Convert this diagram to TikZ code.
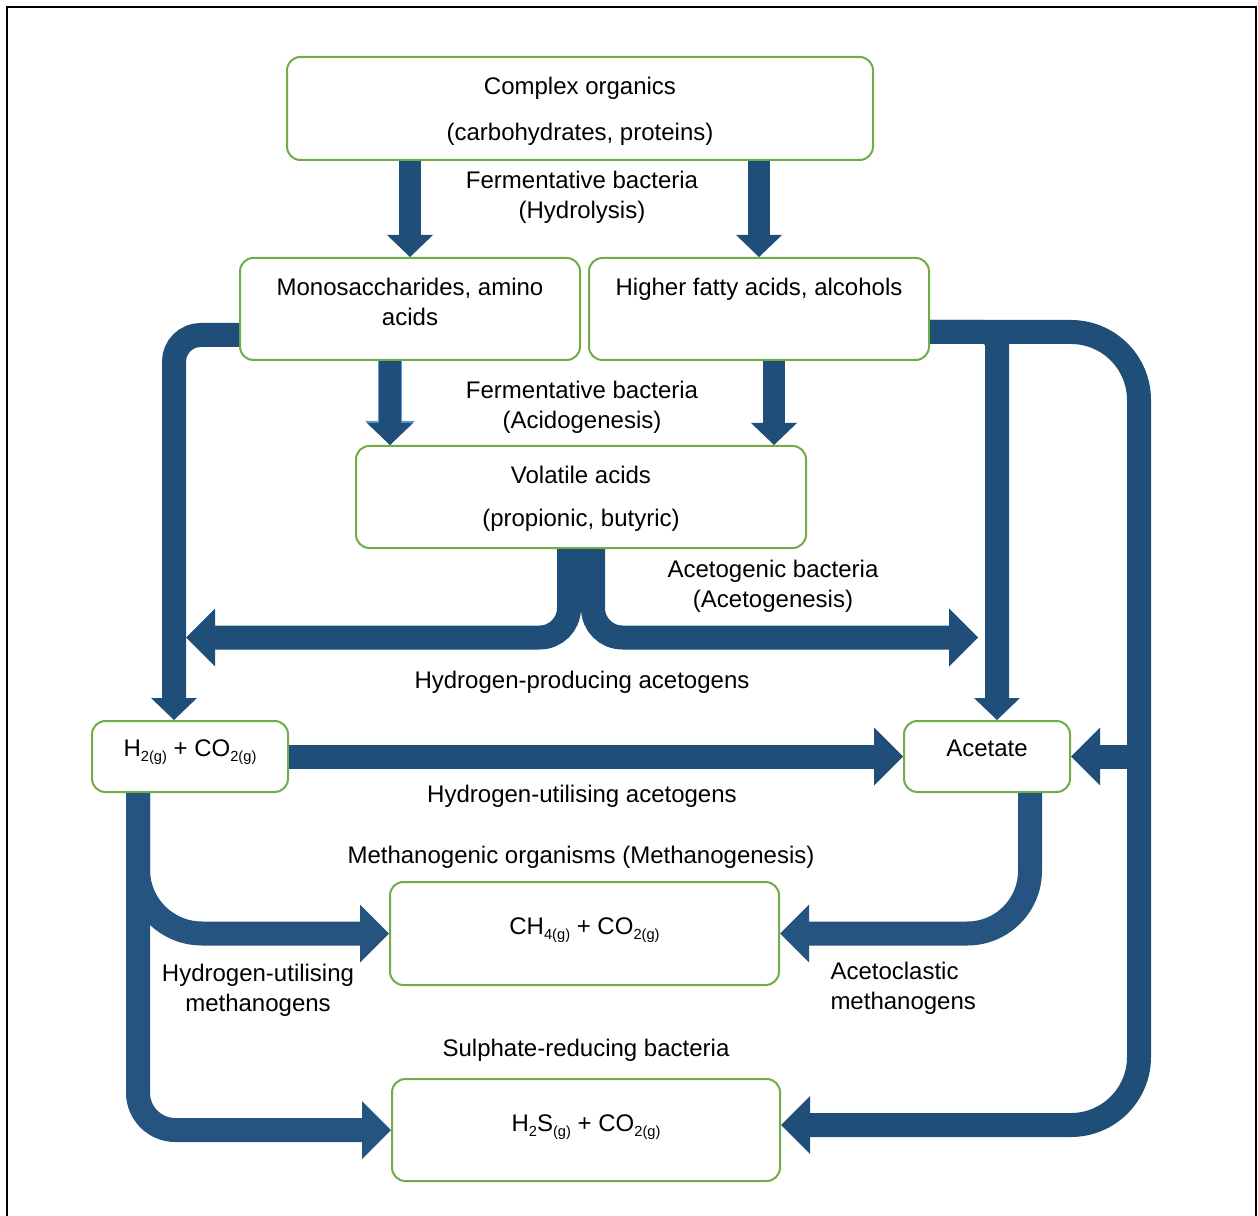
\documentclass[tikz,border=0pt]{standalone}
\usepackage{fontspec}
\setmainfont{Liberation Sans}
\usetikzlibrary{arrows.meta,calc}

\definecolor{arrowblue}{RGB}{31,78,121}
\definecolor{arrowblueB}{RGB}{37,84,128}
\definecolor{edgeblue}{RGB}{91,155,213}
\definecolor{boxgreen}{RGB}{112,173,71}

% text inside a box: [space above first line]{width}{height}{text}
\newcommand{\boxtext}[4][12.5pt]{\begin{minipage}[c][#3][t]{#2}\centering\vspace*{#1}\strut #4\end{minipage}}
% small lowered index, e.g. 2(g)
\newcommand{\chemsub}[1]{\raisebox{-3.5pt}{\fontsize{11}{11}\selectfont #1}}

\tikzset{every picture/.style={line width=0.75pt}}
\tikzset{
  box/.style={draw=boxgreen, line width=1.5pt, rounded corners=10pt, fill=white, inner sep=0pt},
  flow/.style={draw=arrowblue, line width=18pt},
  bighead/.style={-{Triangle[length=21.75pt, width=43.5pt, line width=0pt]}},
  smallhead/.style={-{Triangle[length=16.5pt, width=34.5pt, line width=0pt]}}
}

\begin{document}
\begin{tikzpicture}[x=0.75pt,y=0.75pt,yscale=-1,xscale=1, font=\fontsize{18}{22.5}\selectfont]
	\useasboundingbox (0,0) rectangle (1258,1216);

	%Frame
	\draw [line width=1.5pt] (7,1216) -- (7,7) -- (1256,7) -- (1256,1216) ;

	%Shape: Rounded Rect [complex]
	\node[box] (complex) at (580,108.5) {\boxtext{439.5pt}{77.25pt}{Complex organics\\[12pt](carbohydrates, proteins)}};
	%Shape: Rounded Rect [mono]
	\node[box] (mono) at (410,309) {\boxtext{255pt}{76.5pt}{Monosaccharides, amino\\acids}};
	%Shape: Rounded Rect [hfa]
	\node[box] (hfa) at (759,309) {\boxtext{255pt}{76.5pt}{Higher fatty acids, alcohols}};
	%Shape: Rounded Rect [vfa]
	\node[box] (vfa) at (581,497) {\boxtext{337.5pt}{76.5pt}{Volatile acids\\[9.75pt](propionic, butyric)}};
	%Shape: Rounded Rect [h2]
	\node[box] (h2) at (190,756.5) {\boxtext[11pt]{147pt}{53.25pt}{H\chemsub{2(g)} + CO\chemsub{2(g)}}};
	%Shape: Rounded Rect [ac]
	\node[box] (ac) at (987,756.5) {\boxtext[11pt]{124.5pt}{53.25pt}{Acetate}};
	%Shape: Rounded Rect [ch4]
	\node[box] (ch4) at (584.5,933.5) {\boxtext[23.75pt]{291.75pt}{77.25pt}{CH\chemsub{4(g)} + CO\chemsub{2(g)}}};
	%Shape: Rounded Rect [h2s]
	\node[box] (h2s) at (586,1130) {\boxtext[23.75pt]{291pt}{76.5pt}{H\chemsub{2}S\chemsub{(g)} + CO\chemsub{2(g)}}};

	%Points
	\coordinate (m1) at ($(mono.south)+(-20,0)$);
	\coordinate (f1) at ($(hfa.south)+(15,0)$);
	\coordinate (m2) at ($(mono.west)+(0,26)$);
	\coordinate (h2in) at ($(h2.north)+(-16,0)$);
	\coordinate (hpL) at (186,637.5);
	\coordinate (hpR) at (978,637.5);
	\coordinate (f2) at ($(hfa.east)+(0,23)$);
	\coordinate (railTop) at (1139,332);
	\coordinate (h2sin) at ($(h2s.east)+(0,-5)$);
	\coordinate (railBot) at (railTop |- h2sin);
	\coordinate (railMid) at (ac.east -| railTop);
	\coordinate (a1) at ($(ac.north)+(10,0)$);
	\coordinate (b1) at ($(h2.south)+(-52,0)$);
	\coordinate (c1) at ($(ac.south)+(43,0)$);

	%Straight Lines [complex -> mono]
	\draw [flow, smallhead, line width=16.5pt] (complex.south -| mono.north) -- (mono.north) ;
	%Straight Lines [complex -> hfa]
	\draw [flow, smallhead, line width=16.5pt] (complex.south -| hfa.north) -- (hfa.north) ;
	%Straight Lines [mono -> vfa]
	\draw [flow, smallhead, line width=16.5pt, preaction={draw=edgeblue, line width=18.5pt, -{Triangle[length=18pt, width=37.5pt, line width=0pt]}}] (m1) -- (m1 |- vfa.north) ;
	%Straight Lines [hfa -> vfa]
	\draw [flow, smallhead, line width=16.5pt] (f1) -- (f1 |- vfa.north) ;
	%Bent Lines [mono -> h2]
	\draw [flow, smallhead, rounded corners=20pt] (m2) -| (h2in) ;
	%Bent Lines [vfa -> left, right]
	\draw [flow, bighead, rounded corners=22pt] ($(vfa.south)+(-12,0)$) |- (hpL) ;
	\draw [flow, bighead, rounded corners=22pt] ($(vfa.south)+(12,0)$) |- (hpR) ;
	%Bent Lines [hfa -> acetate, rail]
	\draw [flow, smallhead, rounded corners=10pt] (f2) -| (a1) ;
	\draw [flow, bighead] (f2) [rounded corners=51pt] -- (railTop) -- (railBot) [rounded corners=25pt] -- (h2sin) ;
	\draw [flow, bighead] (railMid) -- (ac.east) ;
	%Straight Lines [h2 -> acetate]
	\draw [flow, bighead] (h2.east) -- (ac.west) ;
	%Bent Lines [h2 -> ch4, h2s]
	\draw [flow, draw=arrowblueB, bighead, rounded corners=48pt] (b1) |- (ch4.west) ;
	\draw [flow, draw=arrowblueB, bighead, rounded corners=28pt] (b1) |- (h2s.west) ;
	%Bent Lines [acetate -> ch4]
	\draw [flow, draw=arrowblueB, bighead, rounded corners=47pt] (c1) |- (ch4.east) ;

	% Text Node
	\draw (582,197) node[align=center] (lblHydro) {Fermentative bacteria\\(Hydrolysis)};
	% Text Node
	\draw (582,407.5) node[align=center] (lblAcido) {Fermentative bacteria\\(Acidogenesis)};
	% Text Node
	\draw (773,586.5) node[align=center] (lblAcetog) {Acetogenic bacteria\\(Acetogenesis)};
	% Text Node
	\draw (582,682) node (lblHprod) {Hydrogen-producing acetogens};
	% Text Node
	\draw (582,796) node (lblHutil) {Hydrogen-utilising acetogens};
	% Text Node
	\draw (581,857) node (lblMethano) {Methanogenic organisms (Methanogenesis)};
	% Text Node
	\draw (258,990) node[align=center] (lblHmeth) {Hydrogen-utilising\\methanogens};
	% Text Node
	\draw (830,988.5) node[align=left, anchor=west, inner xsep=0pt] (lblAcetocl) {Acetoclastic\\methanogens};
	% Text Node
	\draw (586,1050) node (lblSulph) {Sulphate-reducing bacteria};

\end{tikzpicture}
\end{document}
